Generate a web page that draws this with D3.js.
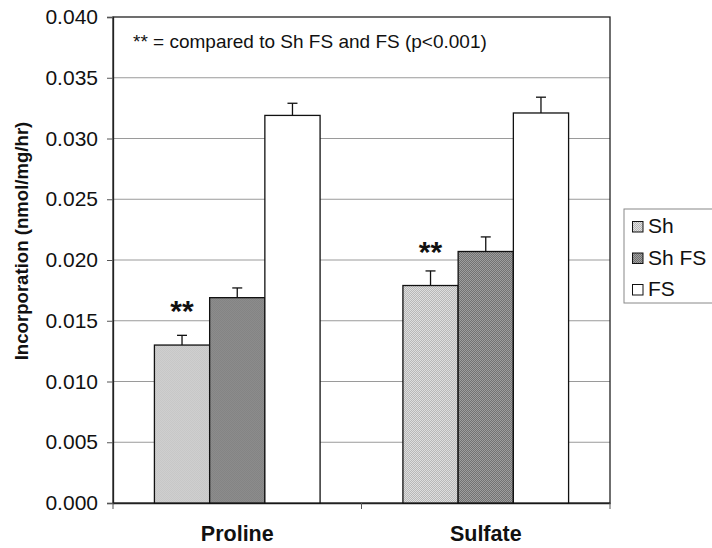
<!DOCTYPE html>
<html><head><meta charset="utf-8">
<script src="https://cdn.jsdelivr.net/npm/d3@7"></script>
<style>body{margin:0;background:#fff}svg{display:block}</style>
</head><body>
<svg id="c" width="712" height="548"></svg>
<script>
const categories = ["Proline", "Sulfate"];
const seriesNames = ["Sh", "Sh FS", "FS"];
const shValues = [0.0130, 0.0179];
const shFsValues = [0.0169, 0.0207];
const fsValues = [0.0319, 0.0321];
const shErr = [0.0008, 0.0012];
const shFsErr = [0.0008, 0.0012];
const fsErr = [0.0010, 0.0013];
const yTicks = [0, 0.005, 0.010, 0.015, 0.020, 0.025, 0.030, 0.035, 0.040];
const starred = ["Sh", "Sh"]; // per category

(function () {
const values = [shValues, shFsValues, fsValues];
const errs = [shErr, shFsErr, fsErr];

const svg = d3.select("#c");
const defs = svg.append("defs");
function dotPattern(id, bg, fg, size) {
  const p = defs.append("pattern").attr("id", id).attr("patternUnits", "userSpaceOnUse")
    .attr("width", size).attr("height", size);
  p.append("rect").attr("width", size).attr("height", size).attr("fill", bg);
  p.append("rect").attr("width", 1).attr("height", 1).attr("fill", fg);
  p.append("rect").attr("x", size/2).attr("y", size/2).attr("width", 1).attr("height", 1).attr("fill", fg);
}
dotPattern("pSh", "#e2e2e2", "#b4b4b4", 2);
dotPattern("pShFS", "#a2a2a2", "#6e6e6e", 2);
const fills = ["url(#pSh)", "url(#pShFS)", "#ffffff"];

const mLeft = 113, mRight = 610, mTop = 17, mBottom = 503;
const y = d3.scaleLinear().domain([0, 0.04]).range([mBottom, mTop]);
const x0 = d3.scaleBand().domain(categories).range([mLeft, mRight]).paddingInner(0).paddingOuter(0);
const groupW = x0.bandwidth() * 3 / 4.5;
const x1 = d3.scaleBand().domain(seriesNames).range([0, groupW]).padding(0);

const font = "Arial, 'Liberation Sans', Helvetica, sans-serif";

// gridlines
svg.append("g").selectAll("line").data(yTicks.filter(d => d > 0 && d < 0.04)).join("line")
  .attr("x1", mLeft).attr("x2", mRight).attr("y1", d => y(d)).attr("y2", d => y(d))
  .attr("stroke", "#9a9a9a").attr("stroke-width", 1);

// plot border
svg.append("rect").attr("x", mLeft).attr("y", mTop).attr("width", mRight - mLeft).attr("height", mBottom - mTop)
  .attr("fill", "none").attr("stroke", "#222").attr("stroke-width", 1.3);

// y axis
const yAxis = d3.axisLeft(y).tickValues(yTicks).tickFormat(d3.format(".3f")).tickSize(6).tickPadding(9);
const gy = svg.append("g").attr("transform", `translate(${mLeft},0)`).call(yAxis);
gy.select(".domain").attr("stroke", "#222").attr("stroke-width", 1.3);
gy.selectAll(".tick line").attr("stroke", "#555");
gy.selectAll("text").attr("font-family", font).attr("font-size", 21).attr("fill", "#111");

// x axis
const xAxis = d3.axisBottom(x0).tickSize(0).tickPadding(23);
const gx = svg.append("g").attr("transform", `translate(0,${mBottom})`).call(xAxis);
gx.select(".domain").attr("stroke", "#222").attr("stroke-width", 1.5);
gx.selectAll("text").attr("font-family", font).attr("font-size", 21.5).attr("font-weight", "bold").attr("fill", "#111");
// category boundary ticks
const bounds = categories.map(c => x0(c)).concat([mRight]);
svg.append("g").selectAll("line").data(bounds).join("line")
  .attr("x1", d => d).attr("x2", d => d).attr("y1", mBottom).attr("y2", mBottom + 6)
  .attr("stroke", "#555");

// bars
const groups = svg.append("g").selectAll("g").data(categories).join("g")
  .attr("transform", c => `translate(${x0(c) + (x0.bandwidth() - groupW) / 2},0)`);
groups.each(function(c, ci) {
  const g = d3.select(this);
  seriesNames.forEach((s, si) => {
    const v = values[si][ci], e = errs[si][ci];
    const bx = x1(s), bw = x1.bandwidth();
    g.append("line").attr("x1", bx + bw/2).attr("x2", bx + bw/2).attr("y1", y(v)).attr("y2", y(v + e))
      .attr("stroke", "#111").attr("stroke-width", 1.3);
    g.append("line").attr("x1", bx + bw/2 - 5).attr("x2", bx + bw/2 + 5).attr("y1", y(v + e)).attr("y2", y(v + e))
      .attr("stroke", "#111").attr("stroke-width", 1.3);
    g.append("rect").attr("x", bx).attr("y", y(v)).attr("width", bw).attr("height", y(0) - y(v))
      .attr("fill", fills[si]).attr("stroke", "#111").attr("stroke-width", 1.3);
    if (starred[ci] === s) {
      g.append("text").attr("x", bx + bw/2).attr("y", y(v) - 24)
        .attr("text-anchor", "middle").attr("font-family", font).attr("font-size", 30).attr("font-weight", "bold")
        .attr("fill", "#111").text("**");
    }
  });
});

// annotation
svg.append("text").attr("x", 133).attr("y", 48).attr("font-family", font).attr("font-size", 19)
  .attr("fill", "#111").text("** = compared to Sh FS and FS (p<0.001)");

// y title
svg.append("text").attr("transform", `translate(28,241) rotate(-90)`)
  .attr("text-anchor", "middle").attr("font-family", font).attr("font-size", 18.6).attr("font-weight", "bold")
  .attr("fill", "#111").text("Incorporation (nmol/mg/hr)");

// legend
const lg = svg.append("g");
lg.append("rect").attr("x", 624).attr("y", 209).attr("width", 100).attr("height", 94)
  .attr("fill", "#fff").attr("stroke", "#888").attr("stroke-width", 1);
const ly = d3.scalePoint().domain(seriesNames).range([233, 296]);
seriesNames.forEach((s, i) => {
  lg.append("rect").attr("x", 632.5).attr("y", ly(s) - 11.5).attr("width", 10.5).attr("height", 10.5)
    .attr("fill", fills[i]).attr("stroke", "#111").attr("stroke-width", 1);
  lg.append("text").attr("x", 648).attr("y", ly(s)).attr("font-family", font).attr("font-size", 21)
    .attr("fill", "#111").text(s);
});
})();
</script>
</body></html>
